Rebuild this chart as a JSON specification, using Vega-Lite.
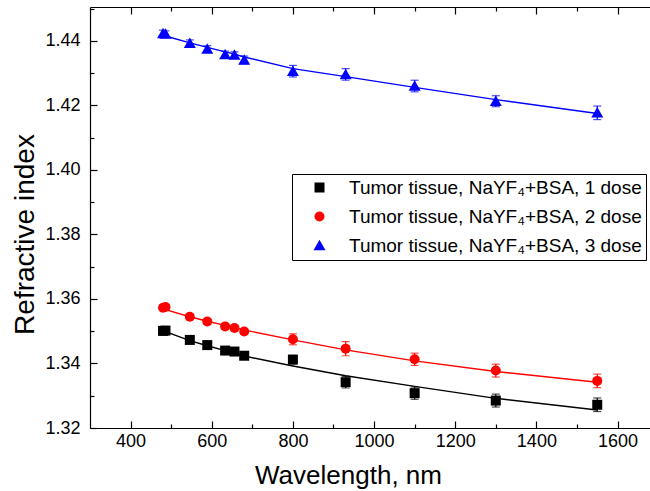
{
  "$schema": "https://vega.github.io/schema/vega-lite/v6.json",
  "width": 560,
  "height": 421,
  "autosize": "none",
  "padding": {"left": 90, "top": 7, "right": 0, "bottom": 63},
  "background": "white",
  "config": {
    "view": {"stroke": null},
    "font": "Liberation Sans",
    "axis": {"grid": false, "domainColor": "black", "tickColor": "black", "labelColor": "black", "titleColor": "black", "labelFont": "Liberation Sans", "titleFont": "Liberation Sans", "titleFontWeight": "normal", "domainWidth": 1.2, "tickWidth": 1.2},
    "legend": {"orient": "none", "legendX": 202, "legendY": 167, "title": null, "strokeColor": "black", "fillColor": "white", "padding": 4,
      "symbolOffset": 14, "labelOffset": 20, "rowPadding": 9, "labelFontSize": 19, "labelFont": "Liberation Sans", "labelColor": "black", "labelLimit": 600, "symbolSize": 100, "symbolStrokeWidth": 0, "symbolOpacity": 1}
  },
  "data": {"values": [
    {"series": "Tumor tissue, NaYF₄+BSA, 1 dose", "wl": 480, "n": 1.3501, "lo": 1.3493, "hi": 1.3509, "fit": 1.3502},
    {"series": "Tumor tissue, NaYF₄+BSA, 1 dose", "wl": 486, "n": 1.3502, "lo": 1.3494, "hi": 1.3510, "fit": 1.3499},
    {"series": "Tumor tissue, NaYF₄+BSA, 1 dose", "wl": 546, "n": 1.3473, "lo": 1.3465, "hi": 1.3481, "fit": 1.3471},
    {"series": "Tumor tissue, NaYF₄+BSA, 1 dose", "wl": 589, "n": 1.3457, "lo": 1.3449, "hi": 1.3465, "fit": 1.3455},
    {"series": "Tumor tissue, NaYF₄+BSA, 1 dose", "wl": 633, "n": 1.3440, "lo": 1.3432, "hi": 1.3448, "fit": 1.3440},
    {"series": "Tumor tissue, NaYF₄+BSA, 1 dose", "wl": 656, "n": 1.3437, "lo": 1.3429, "hi": 1.3445, "fit": 1.3432},
    {"series": "Tumor tissue, NaYF₄+BSA, 1 dose", "wl": 680, "n": 1.3424, "lo": 1.3415, "hi": 1.3433, "fit": 1.3423},
    {"series": "Tumor tissue, NaYF₄+BSA, 1 dose", "wl": 800, "n": 1.3412, "lo": 1.3399, "hi": 1.3425, "fit": 1.3392},
    {"series": "Tumor tissue, NaYF₄+BSA, 1 dose", "wl": 930, "n": 1.3342, "lo": 1.3324, "hi": 1.3360, "fit": 1.3362},
    {"series": "Tumor tissue, NaYF₄+BSA, 1 dose", "wl": 1100, "n": 1.3308, "lo": 1.3289, "hi": 1.3327, "fit": 1.3329},
    {"series": "Tumor tissue, NaYF₄+BSA, 1 dose", "wl": 1300, "n": 1.3285, "lo": 1.3265, "hi": 1.3305, "fit": 1.3292},
    {"series": "Tumor tissue, NaYF₄+BSA, 1 dose", "wl": 1550, "n": 1.3272, "lo": 1.3251, "hi": 1.3293, "fit": 1.3256},
    {"series": "Tumor tissue, NaYF₄+BSA, 2 dose", "wl": 480, "n": 1.3573, "lo": 1.3565, "hi": 1.3581, "fit": 1.3570},
    {"series": "Tumor tissue, NaYF₄+BSA, 2 dose", "wl": 486, "n": 1.3575, "lo": 1.3567, "hi": 1.3583, "fit": 1.3567},
    {"series": "Tumor tissue, NaYF₄+BSA, 2 dose", "wl": 546, "n": 1.3545, "lo": 1.3537, "hi": 1.3553, "fit": 1.3545},
    {"series": "Tumor tissue, NaYF₄+BSA, 2 dose", "wl": 589, "n": 1.3530, "lo": 1.3522, "hi": 1.3538, "fit": 1.3531},
    {"series": "Tumor tissue, NaYF₄+BSA, 2 dose", "wl": 633, "n": 1.3515, "lo": 1.3507, "hi": 1.3523, "fit": 1.3518},
    {"series": "Tumor tissue, NaYF₄+BSA, 2 dose", "wl": 656, "n": 1.3510, "lo": 1.3502, "hi": 1.3518, "fit": 1.3511},
    {"series": "Tumor tissue, NaYF₄+BSA, 2 dose", "wl": 680, "n": 1.3499, "lo": 1.3490, "hi": 1.3508, "fit": 1.3504},
    {"series": "Tumor tissue, NaYF₄+BSA, 2 dose", "wl": 800, "n": 1.3475, "lo": 1.3458, "hi": 1.3492, "fit": 1.3473},
    {"series": "Tumor tissue, NaYF₄+BSA, 2 dose", "wl": 930, "n": 1.3446, "lo": 1.3424, "hi": 1.3468, "fit": 1.3442},
    {"series": "Tumor tissue, NaYF₄+BSA, 2 dose", "wl": 1100, "n": 1.3413, "lo": 1.3394, "hi": 1.3432, "fit": 1.3408},
    {"series": "Tumor tissue, NaYF₄+BSA, 2 dose", "wl": 1300, "n": 1.3378, "lo": 1.3358, "hi": 1.3398, "fit": 1.3375},
    {"series": "Tumor tissue, NaYF₄+BSA, 2 dose", "wl": 1550, "n": 1.3346, "lo": 1.3325, "hi": 1.3367, "fit": 1.3342},
    {"series": "Tumor tissue, NaYF₄+BSA, 3 dose", "wl": 480, "n": 1.4423, "lo": 1.4413, "hi": 1.4433, "fit": 1.4417},
    {"series": "Tumor tissue, NaYF₄+BSA, 3 dose", "wl": 486, "n": 1.4421, "lo": 1.4411, "hi": 1.4431, "fit": 1.4415},
    {"series": "Tumor tissue, NaYF₄+BSA, 3 dose", "wl": 546, "n": 1.4393, "lo": 1.4383, "hi": 1.4403, "fit": 1.4394},
    {"series": "Tumor tissue, NaYF₄+BSA, 3 dose", "wl": 589, "n": 1.4375, "lo": 1.4365, "hi": 1.4385, "fit": 1.4380},
    {"series": "Tumor tissue, NaYF₄+BSA, 3 dose", "wl": 633, "n": 1.4358, "lo": 1.4348, "hi": 1.4368, "fit": 1.4366},
    {"series": "Tumor tissue, NaYF₄+BSA, 3 dose", "wl": 656, "n": 1.4356, "lo": 1.4346, "hi": 1.4366, "fit": 1.4359},
    {"series": "Tumor tissue, NaYF₄+BSA, 3 dose", "wl": 680, "n": 1.4341, "lo": 1.4329, "hi": 1.4353, "fit": 1.4350},
    {"series": "Tumor tissue, NaYF₄+BSA, 3 dose", "wl": 800, "n": 1.4306, "lo": 1.4288, "hi": 1.4324, "fit": 1.4314},
    {"series": "Tumor tissue, NaYF₄+BSA, 3 dose", "wl": 930, "n": 1.4296, "lo": 1.4278, "hi": 1.4314, "fit": 1.4289},
    {"series": "Tumor tissue, NaYF₄+BSA, 3 dose", "wl": 1100, "n": 1.4260, "lo": 1.4242, "hi": 1.4278, "fit": 1.4256},
    {"series": "Tumor tissue, NaYF₄+BSA, 3 dose", "wl": 1300, "n": 1.4213, "lo": 1.4196, "hi": 1.4230, "fit": 1.4218},
    {"series": "Tumor tissue, NaYF₄+BSA, 3 dose", "wl": 1550, "n": 1.4177, "lo": 1.4156, "hi": 1.4198, "fit": 1.4175}
  ]},
  "resolve": {"axis": {"x": "independent", "y": "independent"}},
  "layer": [
    {
      "mark": {"type": "line", "strokeWidth": 1.4},
      "encoding": {
        "x": {"field": "wl", "type": "quantitative", "scale": {"domain": [300, 1680], "nice": false, "zero": false},
          "axis": {"orient": "bottom", "title": "Wavelength, nm", "values": [400, 600, 800, 1000, 1200, 1400, 1600], "format": "d",
            "tickSize": -7, "labelPadding": 11, "labelFontSize": 18, "titleFontSize": 26, "titleX": 258, "titleY": 55, "titleBaseline": "alphabetic", "titleAnchor": null, "titleAlign": "center", "labelOverlap": false}},
        "y": {"field": "fit", "type": "quantitative", "scale": {"domain": [1.32, 1.4505], "nice": false, "zero": false},
          "axis": {"orient": "left", "title": "Refractive index", "values": [1.32, 1.34, 1.36, 1.38, 1.40, 1.42, 1.44], "format": ".2f",
            "tickSize": -7, "labelPadding": 17, "labelFontSize": 18, "titleFontSize": 28, "titleX": -57, "titleY": 227, "titleAngle": 270, "titleBaseline": "alphabetic", "titleAlign": "center", "titleAnchor": null, "labelOverlap": false}},
        "color": {"field": "series", "type": "nominal", "scale": {"domain": ["Tumor tissue, NaYF₄+BSA, 1 dose", "Tumor tissue, NaYF₄+BSA, 2 dose", "Tumor tissue, NaYF₄+BSA, 3 dose"], "range": ["#000000", "#ff0000", "#0000ff"]}},
        "detail": {"field": "series"}
      }
    },
    {
      "mark": {"type": "rule", "strokeWidth": 1.2},
      "encoding": {
        "x": {"field": "wl", "type": "quantitative",
          "axis": {"orient": "top", "title": null, "labels": false, "values": [400, 600, 800, 1000, 1200, 1400, 1600], "tickSize": -7}},
        "y": {"field": "lo", "type": "quantitative",
          "axis": {"orient": "left", "title": null, "labels": false, "domain": false, "values": [1.33, 1.35, 1.37, 1.39, 1.41, 1.43, 1.45], "tickSize": -4}},
        "y2": {"field": "hi"},
        "color": {"field": "series", "type": "nominal"}
      }
    },
    {
      "mark": {"type": "tick", "orient": "horizontal", "size": 8, "thickness": 1.2},
      "encoding": {
        "x": {"field": "wl", "type": "quantitative",
          "axis": {"orient": "bottom", "title": null, "labels": false, "domain": false, "values": [500, 700, 900, 1100, 1300, 1500], "tickSize": -4}},
        "y": {"field": "lo", "type": "quantitative", "axis": null},
        "color": {"field": "series", "type": "nominal"}
      }
    },
    {
      "mark": {"type": "tick", "orient": "horizontal", "size": 8, "thickness": 1.2},
      "encoding": {
        "x": {"field": "wl", "type": "quantitative",
          "axis": {"orient": "top", "title": null, "labels": false, "domain": false, "values": [500, 700, 900, 1100, 1300, 1500], "tickSize": -4}},
        "y": {"field": "hi", "type": "quantitative", "axis": null},
        "color": {"field": "series", "type": "nominal"}
      }
    },
    {
      "mark": {"type": "point", "filled": true, "opacity": 1, "size": 100, "strokeWidth": 0},
      "encoding": {
        "x": {"field": "wl", "type": "quantitative", "axis": null},
        "y": {"field": "n", "type": "quantitative", "axis": null},
        "color": {"field": "series", "type": "nominal"},
        "shape": {"field": "series", "type": "nominal",
          "scale": {"domain": ["Tumor tissue, NaYF₄+BSA, 1 dose", "Tumor tissue, NaYF₄+BSA, 2 dose", "Tumor tissue, NaYF₄+BSA, 3 dose"], "range": ["square", "circle", "M0,-1.15L1.2,0.95L-1.2,0.95Z"]}}
      }
    }
  ]
}
